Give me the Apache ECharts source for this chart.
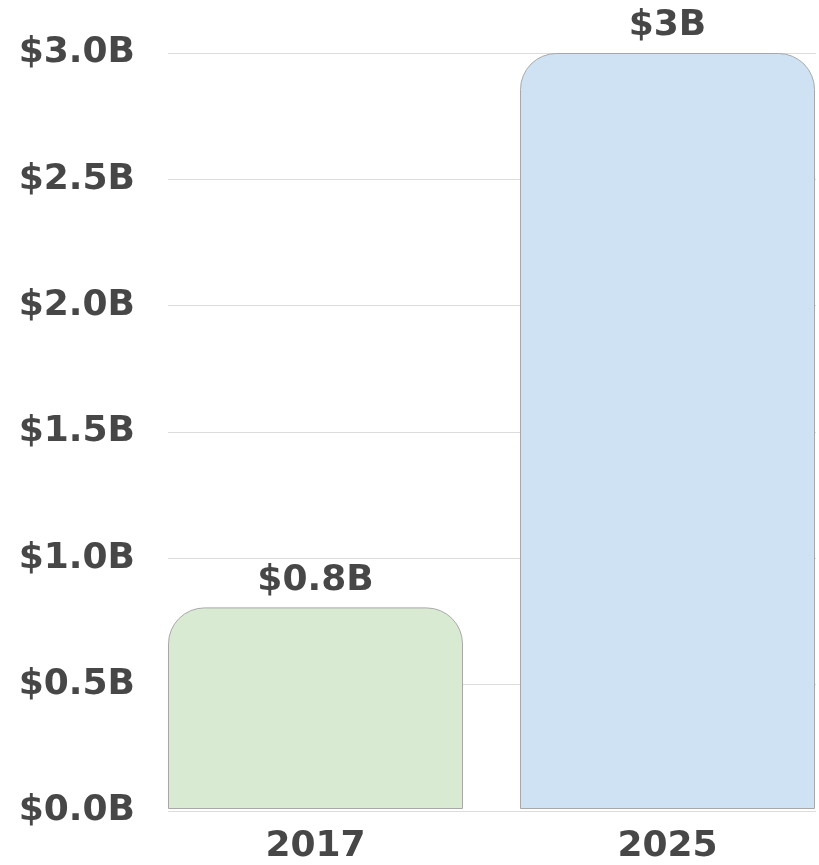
<!DOCTYPE html>
<html>
<head>
<meta charset="utf-8">
<script src="https://cdn.jsdelivr.net/npm/echarts@6/dist/echarts.min.js"></script>
<style>
  html, body { margin: 0; padding: 0; background: #fff; overflow: hidden; }
  #wrap { width: 819px; height: 865px; overflow: hidden; }
  /* canvas is a bit wider than the page so the bar grid can run flush to the right edge */
  #chart { width: 860px; height: 865px; }
</style>
</head>
<body>
<div id="wrap"><div id="chart"></div></div>
<script>
const years = ['2017', '2025']
const revenue = [0.8, 3.0]
const barLabels = ['$0.8B', '$3B']
const barColors = ['#d9ead3', '#cfe2f3']

const font = 'DejaVu Sans'
const textColor = '#474747'

const chart = echarts.init(document.getElementById('chart'))

chart.setOption({
  animation: false,
  grid: [
    // value scale + grid lines
    { left: 168, width: 648, top: 53, bottom: 54 },
    // bars (wider so they sit flush with the grid edges)
    { left: 139.5, width: 704, top: 53, bottom: 54 },
  ],
  xAxis: [
    { gridIndex: 0, type: 'value', min: 0, max: 1, show: false },
    {
      gridIndex: 1,
      type: 'category',
      data: years,
      axisLine: { show: false },
      axisTick: { show: false },
      axisLabel: {
        color: textColor,
        fontFamily: font,
        fontWeight: 'bold',
        fontSize: 36,
        margin: 20,
      },
    },
  ],
  yAxis: [
    {
      gridIndex: 0,
      type: 'value',
      min: 0, max: 3, interval: 0.5,
      axisLine: { show: false },
      axisTick: { show: false },
      splitLine: { lineStyle: { color: '#dcdcdc', width: 1 } },
      axisLabel: {
        color: textColor,
        fontFamily: font,
        fontWeight: 'bold',
        fontSize: 36,
        margin: 33,
        formatter: v => '$' + v.toFixed(1) + 'B',
      },
    },
    { gridIndex: 1, type: 'value', min: 0, max: 3, show: false },
  ],
  series: [
    {
      type: 'bar',
      xAxisIndex: 1,
      yAxisIndex: 1,
      barWidth: 295,
      data: revenue.map((v, i) => ({
        value: v,
        itemStyle: { color: barColors[i] },
      })),
      itemStyle: {
        borderColor: '#a8a8a8',
        borderWidth: 1,
        borderRadius: [36, 36, 0, 0],
      },
      label: {
        show: true,
        position: 'top',
        distance: 9,
        color: textColor,
        fontFamily: font,
        fontWeight: 'bold',
        fontSize: 36,
        formatter: p => barLabels[p.dataIndex],
      },
    },
  ],
})
</script>
</body>
</html>
